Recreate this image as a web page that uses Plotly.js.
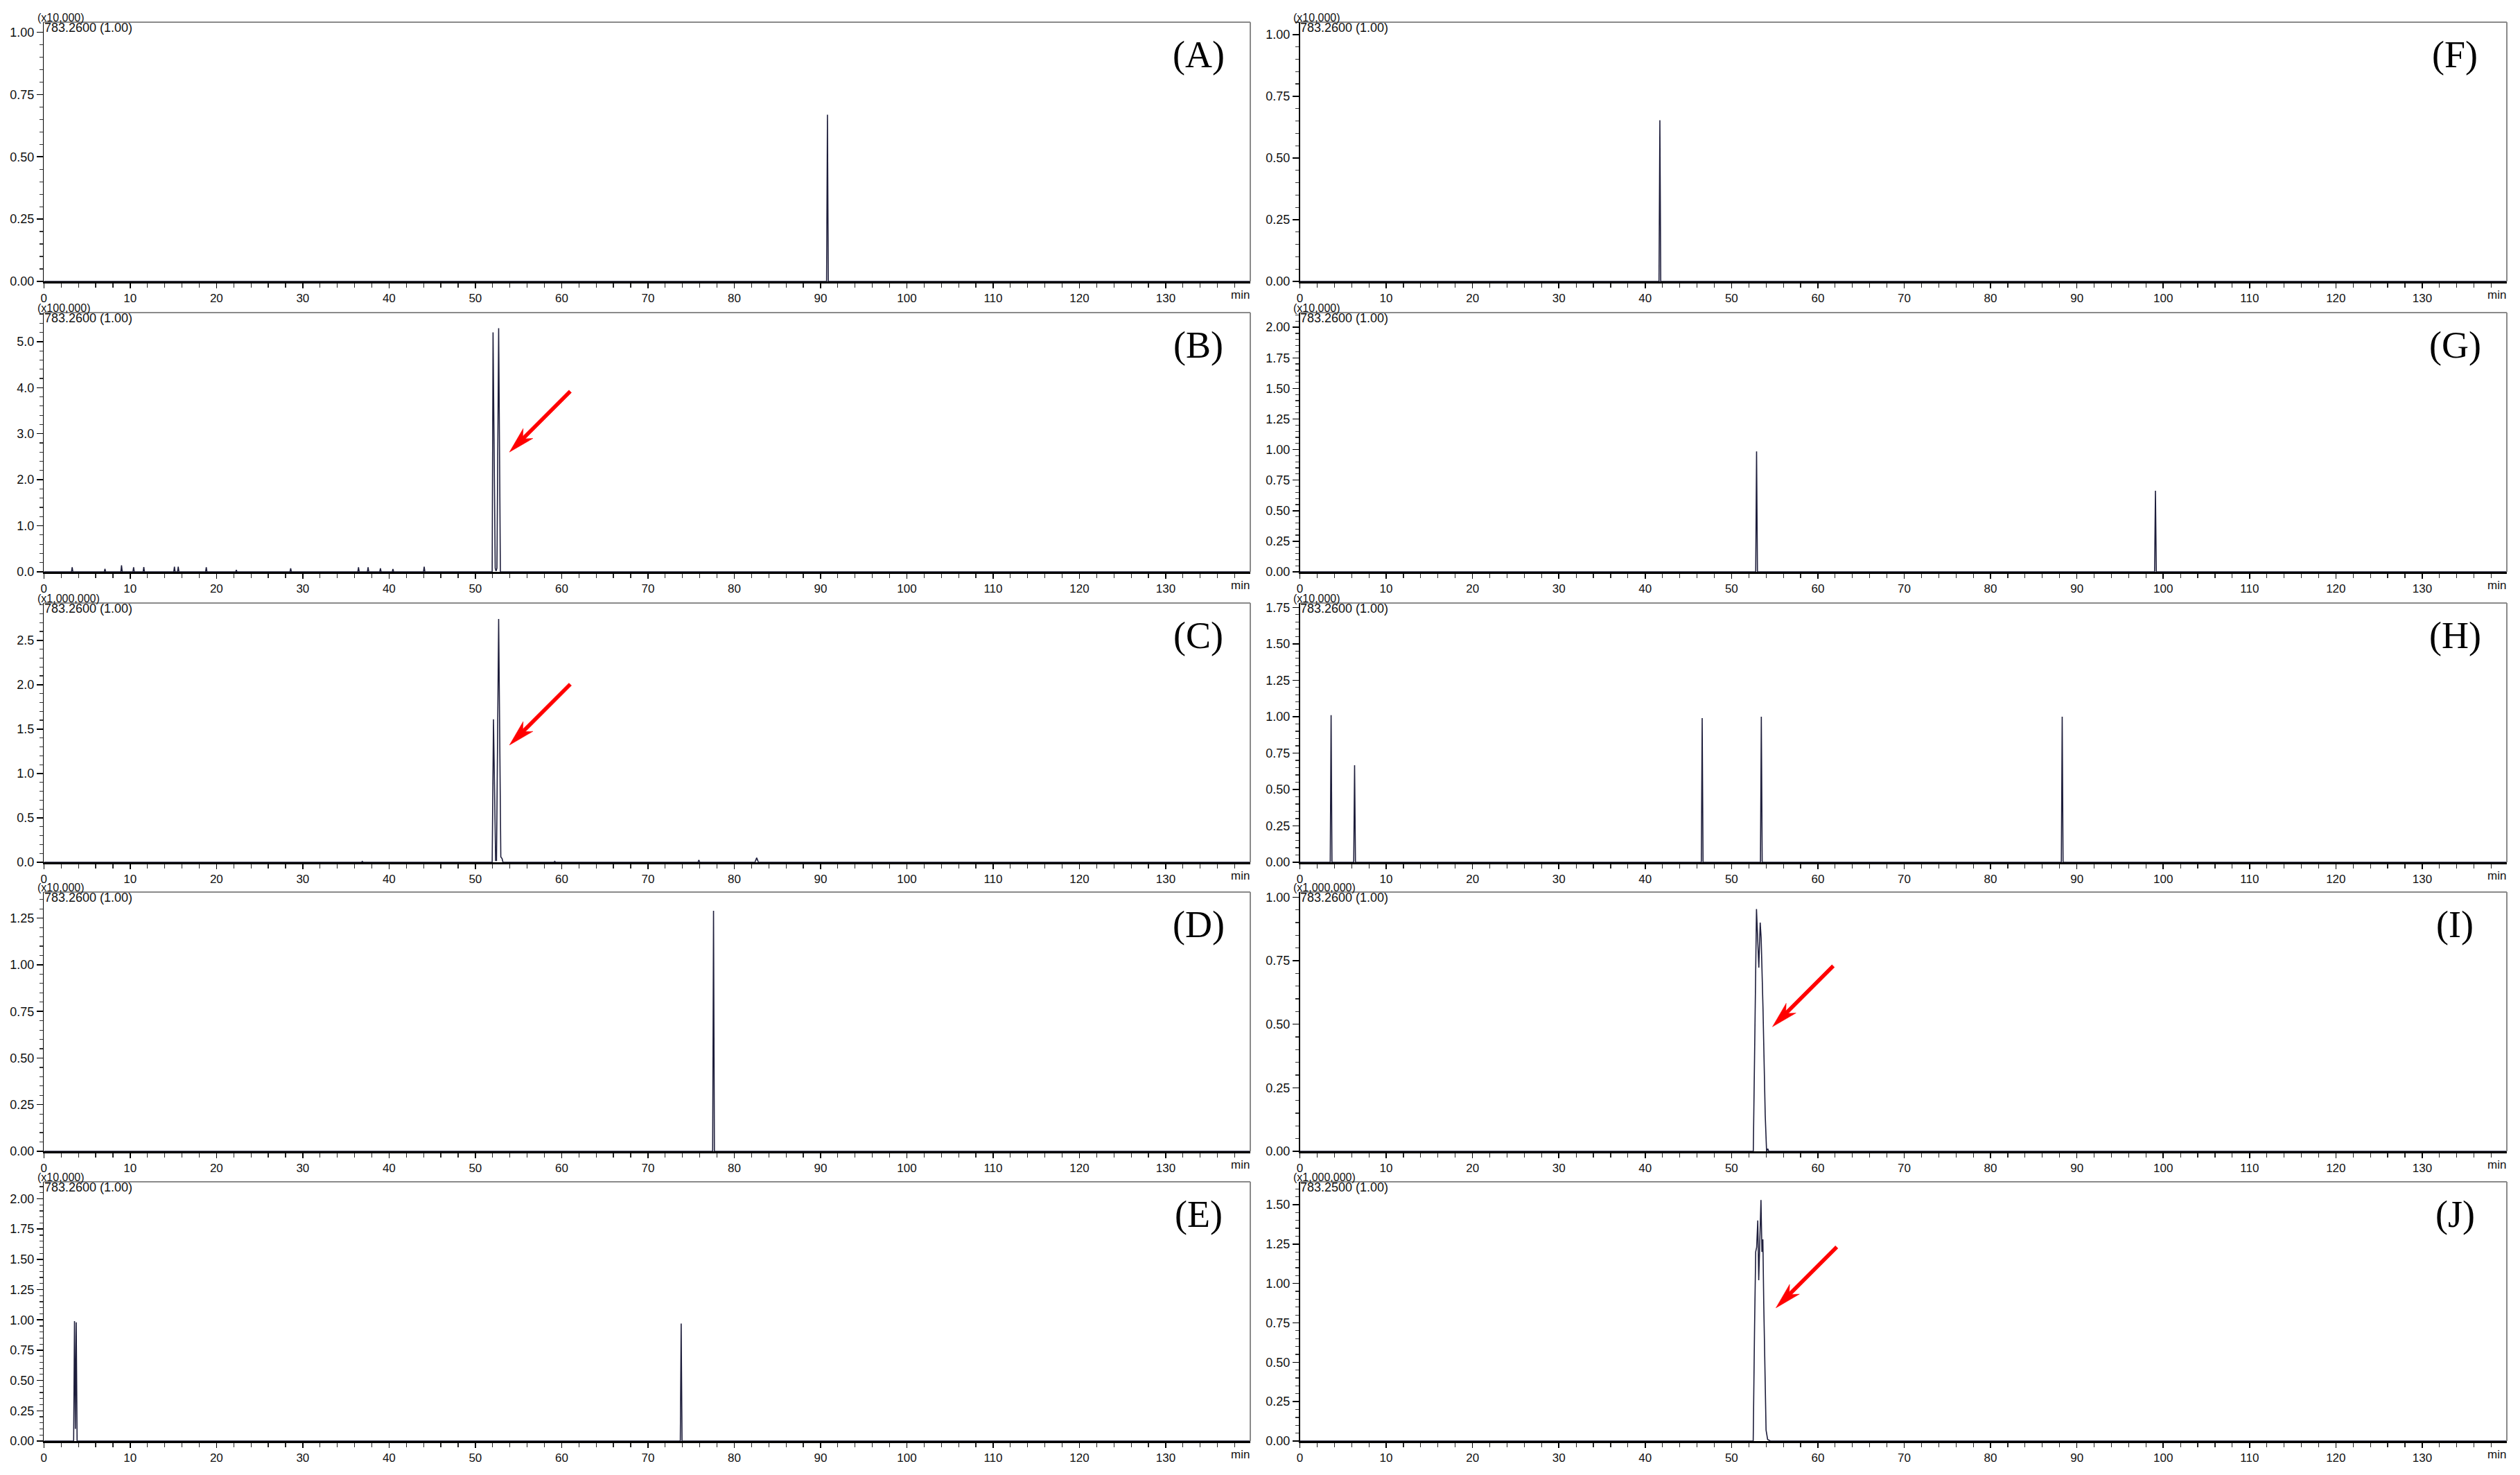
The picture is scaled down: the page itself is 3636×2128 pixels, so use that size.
<!DOCTYPE html>
<html>
<head>
<meta charset="utf-8">
<script src="https://cdn.plot.ly/plotly-3.0.1.min.js"></script>
<style>
  body { margin: 0; background: #fff; }
  #plot { width: 3636px; height: 2128px; }
</style>
</head>
<body>
<div id="plot"></div>
<script>
// Panel labels and the text printed on each chromatogram
var panels = ["A", "B", "C", "D", "E", "F", "G", "H", "I", "J"];
var scaleLabels = ["(x10,000)", "(x100,000)", "(x1,000,000)", "(x10,000)", "(x10,000)",
                   "(x10,000)", "(x10,000)", "(x10,000)", "(x1,000,000)", "(x1,000,000)"];
var ionLabels = ["783.2600 (1.00)", "783.2600 (1.00)", "783.2600 (1.00)", "783.2600 (1.00)", "783.2600 (1.00)",
                 "783.2600 (1.00)", "783.2600 (1.00)", "783.2600 (1.00)", "783.2600 (1.00)", "783.2500 (1.00)"];

// y axis tops and tick steps
var yTop = [1.04, 5.63, 2.92, 1.39, 2.14, 1.05, 2.12, 1.78, 1.02, 1.645];
var yMajor = [0.25, 1, 0.5, 0.25, 0.25, 0.25, 0.25, 0.25, 0.25, 0.25];
var yMinor = [0.05, 0.2, 0.1, 0.05, 0.05, 0.05, 0.05, 0.05, 0.05, 0.05];
var yFormat = [".2f", ".1f", ".1f", ".2f", ".2f", ".2f", ".2f", ".2f", ".2f", ".2f"];
var xEnd = 139.8;

// Chromatograms (time in min, intensity in the panel's multiplier units)
var timeA = [0, 90.7, 90.8, 90.9, 139.8];
var sigA  = [0, 0, 0.669, 0, 0];

var timeB = [0, 3.2, 3.28, 3.36, 7.0, 7.08, 7.16, 8.92, 9.0, 9.08, 10.32, 10.4, 10.48,
             11.5, 11.58, 11.66, 15.05, 15.13, 15.21, 15.49, 15.57, 15.65, 18.74, 18.82, 18.9,
             22.22, 22.3, 22.38, 28.52, 28.6, 28.68, 36.38, 36.46, 36.54, 37.49, 37.57, 37.65,
             38.92, 39.0, 39.08, 40.37, 40.45, 40.53, 43.99, 44.07, 44.15,
             51.95, 52.05, 52.3, 52.4, 52.5, 52.7, 52.9, 139.8];
var sigB  = [0, 0, 0.10, 0, 0, 0.065, 0, 0, 0.14, 0, 0, 0.10, 0,
             0, 0.105, 0, 0, 0.11, 0, 0, 0.11, 0, 0, 0.10, 0,
             0, 0.04, 0, 0, 0.075, 0, 0, 0.10, 0, 0, 0.10, 0,
             0, 0.075, 0, 0, 0.06, 0, 0, 0.11, 0,
             0, 5.20, 0.08, 0.02, 0.08, 5.29, 0, 0];

var timeC = [0, 36.8, 36.9, 37.0, 51.95, 52.1, 52.35, 52.45, 52.7, 52.95, 53.1, 53.2,
             59.1, 59.2, 59.3, 75.8, 75.9, 76.0, 82.4, 82.6, 82.8, 139.8];
var sigC  = [0, 0, 0.01, 0, 0, 1.61, 0.02, 0.02, 2.74, 0.06, 0.04, 0,
             0, 0.01, 0, 0, 0.025, 0, 0, 0.05, 0, 0];

var timeD = [0, 77.5, 77.6, 77.7, 139.8];
var sigD  = [0, 0, 1.29, 0, 0];

var timeE = [0, 3.45, 3.55, 3.65, 3.75, 3.85, 73.75, 73.85, 73.95, 139.8];
var sigE  = [0, 0, 0.99, 0.1, 0.98, 0, 0, 0.97, 0, 0];

var timeF = [0, 41.6, 41.7, 41.8, 139.8];
var sigF  = [0, 0, 0.653, 0, 0];

var timeG = [0, 52.8, 52.9, 53.0, 99.0, 99.1, 99.2, 139.8];
var sigG  = [0, 0, 0.985, 0, 0, 0.663, 0, 0];

var timeH = [0, 3.52, 3.62, 3.72, 6.24, 6.34, 6.44, 46.5, 46.6, 46.7, 53.35, 53.45, 53.55,
             88.2, 88.3, 88.4, 139.8];
var sigH  = [0, 0, 1.01, 0, 0, 0.666, 0, 0, 0.99, 0, 0, 1.0, 0, 0, 1.0, 0, 0];

var timeI = [0, 52.52, 52.71, 52.79, 52.89, 53.16, 53.32, 53.43, 53.64, 53.9, 54.06, 54.2, 54.3, 139.8];
var sigI  = [0, 0, 0.48, 0.75, 0.953, 0.723, 0.90, 0.84, 0.569, 0.144, 0, 0.01, 0, 0];

var timeJ = [0, 52.51, 52.67, 52.8, 52.91, 53.04, 53.15, 53.28, 53.41, 53.52, 53.63, 53.73,
             53.89, 54.0, 54.18, 54.5, 139.8];
var sigJ  = [0, 0, 0.73, 1.2, 1.23, 1.40, 1.02, 1.33, 1.53, 1.20, 1.28, 0.877,
             0.29, 0.07, 0.01, 0, 0];

// Red arrows: which panel, and where the head points (data coords)
var arrowPanels = [1, 2, 8, 9];
var arrowX = [53.95, 53.95, 54.74, 55.14];
var arrowY = [2.60, 1.32, 0.49, 0.845];

var series = [[timeA, sigA], [timeB, sigB], [timeC, sigC], [timeD, sigD], [timeE, sigE],
              [timeF, sigF], [timeG, sigG], [timeH, sigH], [timeI, sigI], [timeJ, sigJ]];

// Page geometry (pixels)
var W = 3636, H = 2128;
var cols = [[63.3, 1804], [1875.5, 3617]];
var rowBase = [406, 825, 1244, 1661, 2079];
var plotH = 374;

var sans = "Liberation Sans, Arial, sans-serif";
var serif = "Liberation Serif, Times New Roman, serif";
var traceColor = "#1e1e3c";

var data = [];
var layout = {
  width: W,
  height: H,
  margin: { l: 0, r: 0, t: 0, b: 0 },
  paper_bgcolor: "#fff",
  plot_bgcolor: "#fff",
  showlegend: false,
  annotations: [],
  shapes: []
};

function axName(i) { return i === 0 ? "" : String(i + 1); }

function panelBox(i) {
  var c = cols[i < 5 ? 0 : 1];
  var base = rowBase[i % 5];
  return { x0: c[0], x1: c[1], yb: base, yt: base - plotH };
}

series.forEach(function (s, i) {
  var n = axName(i);
  var box = panelBox(i);

  data.push({
    x: s[0],
    y: s[1],
    type: "scatter",
    mode: "lines",
    line: { color: traceColor, width: 1.6 },
    xaxis: "x" + n,
    yaxis: "y" + n,
    hoverinfo: "skip"
  });

  layout["xaxis" + n] = {
    domain: [box.x0 / W, box.x1 / W],
    anchor: "y" + n,
    range: [0, xEnd],
    showline: true, linecolor: "#000", linewidth: 3,
    ticks: "outside", ticklen: 7, tickwidth: 1.5, tickcolor: "#000",
    tickmode: "linear", tick0: 0, dtick: 10,
    minor: { dtick: 2, ticks: "outside", ticklen: 6, tickwidth: 1.2, tickcolor: "#222" },
    showgrid: false, zeroline: false,
    tickfont: { family: sans, size: 17, color: "#111" },
    fixedrange: true
  };

  layout["yaxis" + n] = {
    domain: [1 - box.yb / H, 1 - box.yt / H],
    anchor: "x" + n,
    range: [0, yTop[i]],
    showline: true, linecolor: "#000", linewidth: 1.5,
    ticks: "outside", ticklen: 9, tickwidth: 1.5, tickcolor: "#000",
    tickmode: "linear", tick0: 0, dtick: yMajor[i], tickformat: yFormat[i],
    minor: { dtick: yMinor[i], ticks: "outside", ticklen: 5, tickwidth: 1.2, tickcolor: "#333" },
    showgrid: false, zeroline: false,
    tickfont: { family: sans, size: 18, color: "#111" },
    fixedrange: true
  };

  var xd = "x" + n + " domain", yd = "y" + n + " domain";

  // gray top and right frame
  layout.shapes.push({ type: "line", xref: xd, yref: yd, x0: 0, x1: 1, y0: 1, y1: 1,
                       line: { color: "#8a8a8a", width: 2 } });
  layout.shapes.push({ type: "line", xref: xd, yref: yd, x0: 1, x1: 1, y0: 0, y1: 1,
                       line: { color: "#8a8a8a", width: 2 } });

  layout.annotations.push({
    xref: xd, yref: yd, x: 0, y: 1, xanchor: "left", yanchor: "bottom",
    xshift: -10, yshift: -3, borderpad: 0, showarrow: false, text: scaleLabels[i],
    font: { family: sans, size: 16, color: "#111" }
  });
  layout.annotations.push({
    xref: xd, yref: yd, x: 0, y: 1, xanchor: "left", yanchor: "top",
    xshift: 0, yshift: 3, borderpad: 0, showarrow: false, text: ionLabels[i],
    font: { family: sans, size: 18, color: "#111" }
  });
  layout.annotations.push({
    xref: xd, yref: yd, x: 1, y: 0, xanchor: "right", yanchor: "top",
    xshift: 0, yshift: -9, borderpad: 0, showarrow: false, text: "min",
    font: { family: sans, size: 17, color: "#111" }
  });
  layout.annotations.push({
    xref: xd, yref: yd, x: 1, y: 1, xanchor: "center", yanchor: "middle",
    xshift: -75, yshift: -47, showarrow: false, text: "(" + panels[i] + ")",
    font: { family: serif, size: 54, color: "#000" }
  });
});

// Red arrows drawn as filled paths, head at the given data point
function toPx(i, x, y) {
  var box = panelBox(i);
  var px = box.x0 + (x / xEnd) * (box.x1 - box.x0);
  var py = box.yb - (y / yTop[i]) * plotH;
  return [px, py];
}

arrowPanels.forEach(function (p, k) {
  var t = toPx(p, arrowX[k], arrowY[k]);
  var u = [Math.SQRT1_2, -Math.SQRT1_2];   // toward the tail
  var v = [Math.SQRT1_2, Math.SQRT1_2];    // across
  function pt(a, b) {
    var px = t[0] + a * u[0] + b * v[0];
    var py = t[1] + a * u[1] + b * v[1];
    return (px / W).toFixed(5) + "," + (1 - py / H).toFixed(5);
  }
  var path = "M" + pt(0, 0) +
             " L" + pt(38, 10) + " L" + pt(30, 2.6) + " L" + pt(124, 2.6) +
             " L" + pt(124, -2.6) + " L" + pt(30, -2.6) + " L" + pt(38, -10) + " Z";
  layout.shapes.push({
    type: "path", xref: "paper", yref: "paper", path: path,
    fillcolor: "#ff0000", line: { color: "#ff0000", width: 0.5 }
  });
});

Plotly.newPlot("plot", data, layout, { staticPlot: true });
</script>
</body>
</html>
